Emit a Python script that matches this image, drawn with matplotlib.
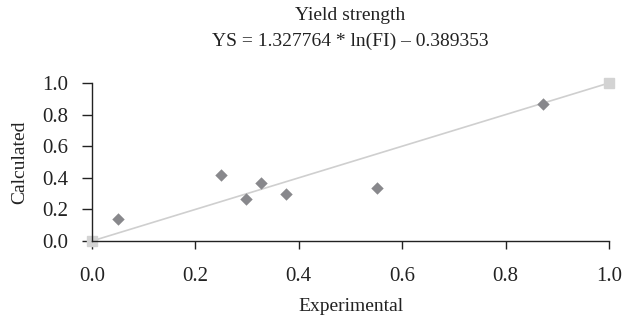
import matplotlib
matplotlib.use("Agg")
import matplotlib.pyplot as plt

exp_vals = [0.05, 0.25, 0.298, 0.327, 0.375, 0.551, 0.872]
calc_vals = [0.14, 0.415, 0.267, 0.368, 0.298, 0.336, 0.865]
line_x = [0.0, 1.0]
line_y = [0.0, 1.0]
xticks = [0.0, 0.2, 0.4, 0.6, 0.8, 1.0]
yticks = [0.0, 0.2, 0.4, 0.6, 0.8, 1.0]

plt.rcParams['font.family'] = ['Liberation Serif', 'DejaVu Serif']

fig = plt.figure(figsize=(6.24, 3.17), dpi=100)
ax = fig.add_axes([92/624, 1-241/317, (609-92)/624, (241-83)/317])

ax.plot(line_x, line_y, color='#cfcfcf', lw=1.2, marker='s', markersize=7,
        markerfacecolor='#d3d3d3', markeredgecolor='#d3d3d3', zorder=2, clip_on=False)
ax.scatter(exp_vals, calc_vals, marker='D', s=40, color='#88888c', zorder=3, clip_on=False, linewidths=0)

ax.set_xlim(0, 1)
ax.set_ylim(0, 1)
ax.set_xticks(xticks)
ax.set_yticks(yticks)
ax.set_xticklabels([f"{v:.1f}" for v in xticks])
ax.set_yticklabels([f"{v:.1f}" for v in yticks])
for s in ['top', 'right']:
    ax.spines[s].set_visible(False)
for s in ['left', 'bottom']:
    ax.spines[s].set_color('#222222')
    ax.spines[s].set_linewidth(1.0)
ax.tick_params(axis='x', direction='out', length=6, width=1, labelsize=15, pad=13, colors='#222222')
ax.tick_params(axis='y', direction='out', length=7, width=1, labelsize=15, pad=10, colors='#222222')
ax.set_xlabel('Experimental', fontsize=14, labelpad=8.5, color='#222222')
ax.set_ylabel('Calculated', fontsize=14, labelpad=10, color='#222222')

fig.text(350/624, 1-16/317, 'Yield strength', ha='center', va='center', fontsize=14, color='#222222')
fig.text(350/624, 1-41/317, 'YS = 1.327764 * ln(FI) \u2013 0.389353', ha='center', va='center', fontsize=14, color='#222222')

fig.savefig('out.png', dpi=100)
